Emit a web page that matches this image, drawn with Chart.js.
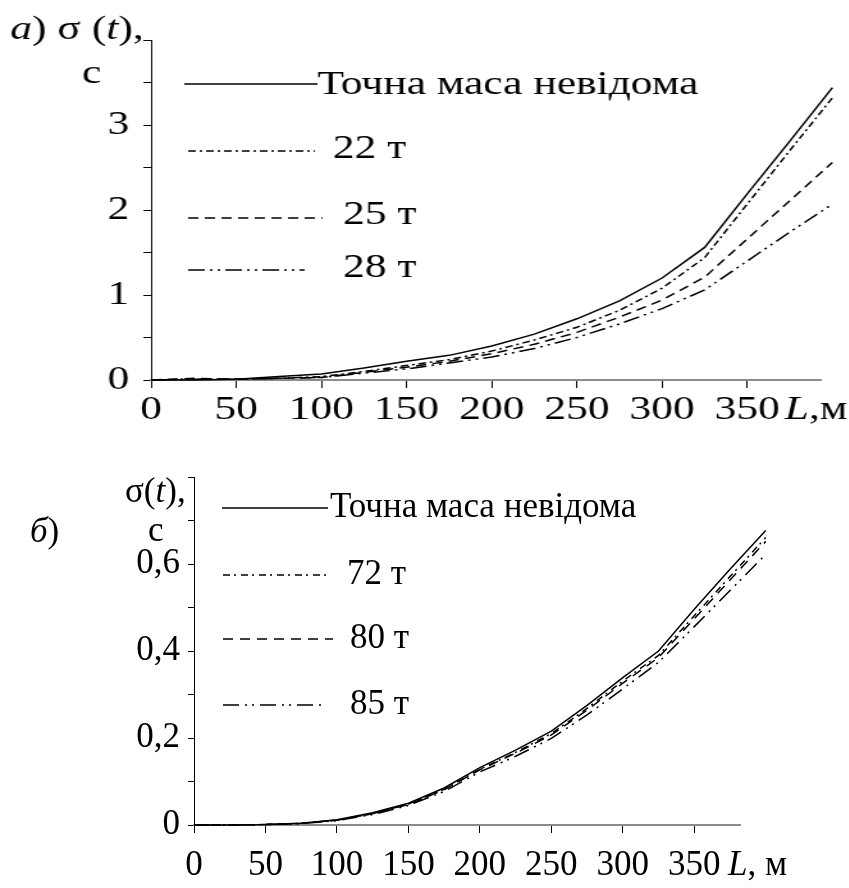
<!DOCTYPE html>
<html lang="uk">
<head>
  <meta charset="UTF-8">
  <title>σ(t) від L</title>
  <script src="https://cdn.jsdelivr.net/npm/chart.js"></script>
  <style>
    html, body {
      margin: 0;
      padding: 0;
      background: #fff;
      width: 849px;
      height: 888px;
      overflow: hidden;
    }
    #topo {
      position: absolute;
      left: 0;
      top: 0;
      transform: scaleX(1.28);
      transform-origin: 0 0;
    }
    #baixo {
      position: absolute;
      left: 0;
      top: 440px;
    }
  </style>
</head>
<body>

  <canvas id="topo" width="663" height="440"></canvas>
  <canvas id="baixo" width="849" height="448"></canvas>

  <script>
    // дані
    const distancias = [0, 25, 50, 75, 100, 125, 150, 175, 200, 225, 250, 275, 300, 325, 350, 375, 400];

    // а) маса невідома / 22 т / 25 т / 28 т
    const sigmaA_exacta = [0, 0, 0.01, 0.04, 0.07, 0.14, 0.22, 0.29, 0.40, 0.54, 0.72, 0.93, 1.20, 1.56, 2.19, 2.81, 3.44];
    const sigmaA_22 = [0, 0.01, 0.01, 0.02, 0.04, 0.10, 0.17, 0.24, 0.34, 0.47, 0.62, 0.82, 1.08, 1.44, 2.07, 2.70, 3.32];
    const sigmaA_25 = [0, 0.02, 0.01, 0.02, 0.03, 0.09, 0.15, 0.22, 0.31, 0.42, 0.56, 0.74, 0.94, 1.21, 1.66, 2.11, 2.56];
    const sigmaA_28 = [0, 0.01, 0.01, 0.02, 0.03, 0.08, 0.13, 0.20, 0.27, 0.37, 0.50, 0.66, 0.84, 1.06, 1.40, 1.74, 2.07];

    // б) маса невідома / 72 т / 80 т / 85 т
    const sigmaB_exacta = [0, 0, 0.001, 0.004, 0.012, 0.028, 0.050, 0.085, 0.132, 0.172, 0.216, 0.275, 0.339, 0.400, 0.496, 0.588, 0.677];
    const sigmaB_72 = [0, 0, 0.001, 0.004, 0.011, 0.026, 0.048, 0.082, 0.128, 0.167, 0.210, 0.268, 0.331, 0.390, 0.481, 0.571, 0.661];
    const sigmaB_80 = [0, 0, 0.001, 0.004, 0.011, 0.026, 0.047, 0.081, 0.127, 0.165, 0.207, 0.264, 0.326, 0.385, 0.474, 0.563, 0.652];
    const sigmaB_85 = [0, 0, 0.001, 0.003, 0.010, 0.024, 0.045, 0.077, 0.122, 0.158, 0.199, 0.253, 0.313, 0.374, 0.456, 0.539, 0.622];

    const nomesA = ['Точна маса невідома', '22 т', '25 т', '28 т'];
    const nomesB = ['Точна маса невідома', '72 т', '80 т', '85 т'];

    const xTicks = [0, 50, 100, 150, 200, 250, 300, 350];
    const yLabelsA = [0, 1, 2, 3];
    const yLabelsB = [0, 0.2, 0.4, 0.6];

    const FONTE = "'Liberation Serif', 'Times New Roman', serif";

    function serie(valores, tracejado) {
      return {
        data: distancias.map((d, i) => ({ x: d, y: valores[i] })),
        borderColor: '#000',
        borderWidth: 1.5,
        borderDash: tracejado,
        pointRadius: 0,
        tension: 0,
        fill: false,
        clip: false
      };
    }

    // escreve pedaços de texto (normal / itálico) em sequência
    function escrever(ctx, x, y, pedacos, tam) {
      ctx.textBaseline = 'middle';
      ctx.textAlign = 'left';
      pedacos.forEach(p => {
        ctx.font = (p[1] ? 'italic ' : '') + tam + 'px ' + FONTE;
        ctx.fillText(p[0], x, y);
        x += ctx.measureText(p[0]).width;
      });
    }

    function decoracao(cfg) {
      return {
        id: 'decoracao',
        afterDraw(chart) {
          const ctx = chart.ctx;
          ctx.save();
          ctx.fillStyle = '#000';
          cfg.textos.forEach(t => escrever(ctx, t.x, t.y, t.pedacos, cfg.tam));
          cfg.legenda.forEach((l, i) => {
            const ds = chart.data.datasets[i];
            ctx.strokeStyle = '#000';
            ctx.lineWidth = ds.borderWidth;
            ctx.setLineDash(ds.borderDash || []);
            ctx.beginPath();
            ctx.moveTo(l.x1, l.y);
            ctx.lineTo(l.x2, l.y);
            ctx.stroke();
            ctx.setLineDash([]);
            escrever(ctx, l.tx, l.ty, [[cfg.nomes[i], false]], cfg.tam);
          });
          ctx.restore();
        }
      };
    }

    function criarGrafico(id, cfg) {
      const ctx = document.getElementById(id).getContext('2d');
      return new Chart(ctx, {
        type: 'line',
        data: { datasets: cfg.series },
        options: {
          responsive: false,
          animation: false,
          events: [],
          layout: { padding: cfg.padding },
          plugins: { legend: { display: false }, tooltip: { enabled: false } },
          scales: {
            x: {
              type: 'linear',
              min: 0,
              max: cfg.xMax,
              afterBuildTicks: s => { s.ticks = xTicks.map(v => ({ value: v })); },
              afterFit: s => { s.height = cfg.xAltura; },
              border: { display: true, color: '#8c8c8c', width: 2 },
              grid: { display: true, drawOnChartArea: false, drawTicks: true, tickLength: 8, tickColor: '#000', tickWidth: 1 },
              ticks: {
                color: '#000',
                padding: cfg.xPad,
                maxRotation: 0,
                autoSkip: false,
                font: { family: FONTE, size: cfg.tam },
                callback: v => String(v)
              }
            },
            y: {
              min: 0,
              max: cfg.yMax,
              afterFit: s => { s.width = cfg.yLargura; },
              border: { display: true, color: '#000', width: 1 },
              grid: { display: true, drawOnChartArea: false, drawTicks: true, tickLength: 6, tickColor: '#000', tickWidth: 1 },
              ticks: {
                color: '#000',
                stepSize: cfg.yPasso,
                padding: cfg.yPad,
                autoSkip: false,
                font: { family: FONTE, size: cfg.tam },
                callback: cfg.yRotulo
              }
            }
          }
        },
        plugins: [decoracao(cfg)]
      });
    }

    // а)
    criarGrafico('topo', {
      series: [
        serie(sigmaA_exacta, []),
        serie(sigmaA_22, [6, 3, 2, 3]),
        serie(sigmaA_25, [8, 5]),
        serie(sigmaA_28, [13, 4, 2, 4, 2, 4])
      ],
      nomes: nomesA,
      tam: 34,
      padding: { left: 0, right: 22, top: 40, bottom: 0 },
      xMax: 393,
      xAltura: 60,
      xPad: 2,
      yMax: 4,
      yPasso: 0.5,
      yLargura: 118,
      yPad: 11,
      yRotulo: v => yLabelsA.includes(v) ? String(v) : '',
      textos: [
        { x: 8, y: 30, pedacos: [['a', true], [') σ (', false], ['t', true], ['),', false]] },
        { x: 64, y: 74, pedacos: [['c', false]] },
        { x: 613, y: 410, pedacos: [['L', true], [',м', false]] }
      ],
      legenda: [
        { x1: 144, x2: 248, y: 84, tx: 248, ty: 85 },
        { x1: 147, x2: 246, y: 151, tx: 260, ty: 149 },
        { x1: 147, x2: 252, y: 218, tx: 268, ty: 215 },
        { x1: 147, x2: 238, y: 270, tx: 268, ty: 268 }
      ]
    });

    // б)
    criarGrafico('baixo', {
      series: [
        serie(sigmaB_exacta, []),
        serie(sigmaB_72, [7, 4, 2, 5]),
        serie(sigmaB_80, [10, 7]),
        serie(sigmaB_85, [16, 6, 2, 5, 2, 6])
      ],
      nomes: nomesB,
      tam: 35,
      padding: { left: 0, right: 109, top: 37, bottom: 0 },
      xMax: 382,
      xAltura: 63,
      xPad: 12,
      yMax: 0.8,
      yPasso: 0.1,
      yLargura: 194,
      yPad: 8,
      yRotulo: v => {
        const r = Math.round(v * 10) / 10;
        if (!yLabelsB.includes(r)) return '';
        return r === 0 ? '0' : r.toFixed(1).replace('.', ',');
      },
      textos: [
        { x: 30, y: 93, pedacos: [['б', true], [')', false]] },
        { x: 125, y: 53, pedacos: [['σ(', false], ['t', true], ['),', false]] },
        { x: 148, y: 92, pedacos: [['c', false]] },
        { x: 728, y: 426, pedacos: [['L', true], [', м', false]] }
      ],
      legenda: [
        { x1: 222, x2: 328, y: 68, tx: 330, ty: 68 },
        { x1: 223, x2: 328, y: 135, tx: 347, ty: 135 },
        { x1: 223, x2: 333, y: 199, tx: 350, ty: 199 },
        { x1: 223, x2: 323, y: 265, tx: 350, ty: 265 }
      ]
    });
  </script>
</body>
</html>
